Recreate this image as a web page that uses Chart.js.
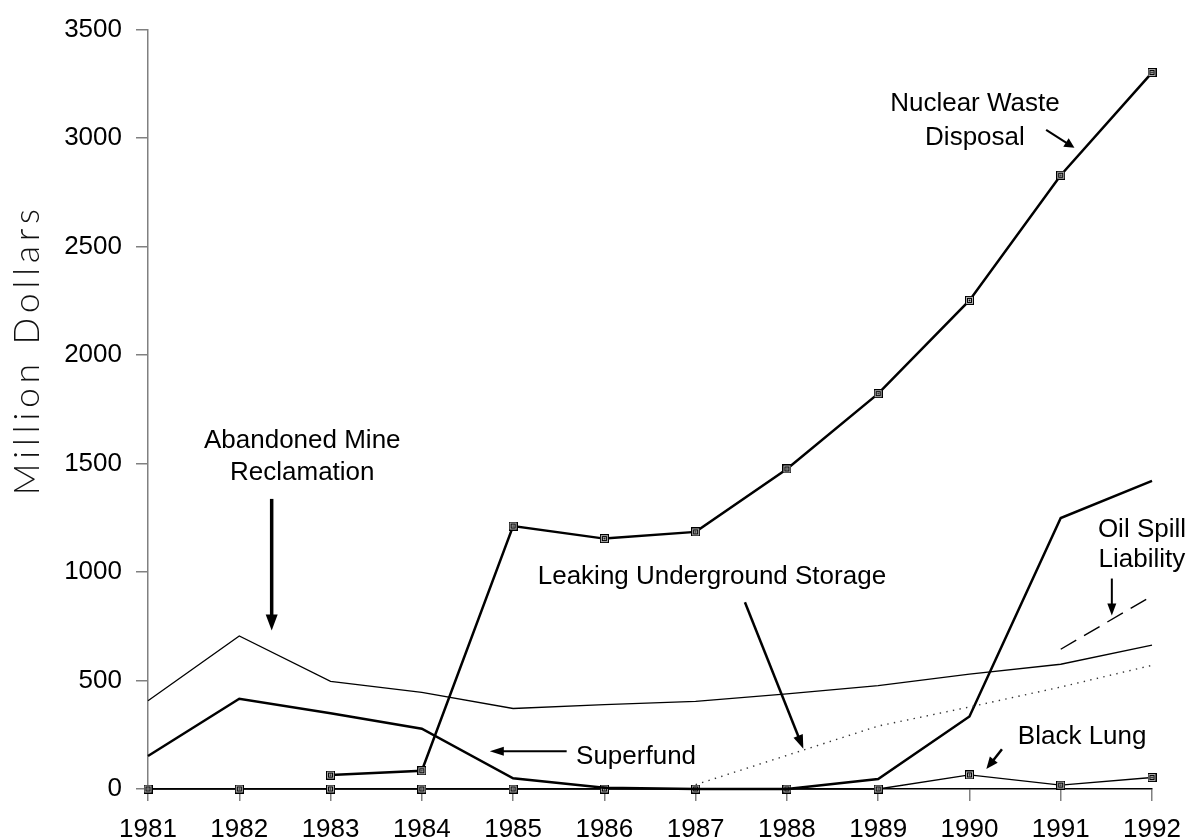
<!DOCTYPE html>
<html>
<head>
<meta charset="utf-8">
<script src="https://cdn.jsdelivr.net/npm/chart.js@4/dist/chart.umd.min.js"></script>
<style>
  html, body { margin: 0; padding: 0; background: #ffffff; }
  #wrap { width: 1196px; height: 840px; position: relative; }
</style>
</head>
<body>
<div id="wrap"><canvas id="c" width="1196" height="840"></canvas></div>
<script>
// ---------------- DATA ----------------
const years = ['1981','1982','1983','1984','1985','1986','1987','1988','1989','1990','1991','1992'];
const yTickValues = [0, 500, 1000, 1500, 2000, 2500, 3000, 3500];
const yTickLabels = ['0', '500', '1000', '1500', '2000', '2500', '3000', '3500'];
const nuclearWaste   = [null, null, 64, 84, 1212, 1154, 1185, 1475, 1822, 2252, 2829, 3302];
const superfund      = [152, 416, 349, 278, 49, 6, 0, 0, 46, 334, 1249, 1420];
const abandonedMine  = [407, 705, 496, 445, 371, 389, 404, 438, 476, 529, 575, 663];
const leakingStorage = [null, null, null, null, null, null, 20, 155, 290, 378, 470, 570];
const oilSpill       = [null, null, null, null, null, null, null, null, null, null, 644, 890];
const blackLung      = [0, 0, 0, 0, 0, 0, 0, 0, 0, 65, 18, 53];
const yAxisTitle = 'Million Dollars';

// ---------------- STYLE / LAYOUT ----------------
const FONT = '"Liberation Sans", Arial, Helvetica, sans-serif';
Chart.defaults.font.family = FONT;
Chart.defaults.color = '#000';

// square marker with dot
function makeMarker() {
  const c = document.createElement('canvas');
  c.width = 9; c.height = 9;
  const g = c.getContext('2d');
  g.fillStyle = '#b0b0b0';
  g.fillRect(0, 0, 9, 9);
  g.strokeStyle = '#000';
  g.lineWidth = 1;
  g.strokeRect(0.5, 0.5, 8, 8);
  g.fillStyle = '#fff';
  g.fillRect(2, 2, 5, 5);
  g.fillStyle = '#000';
  g.fillRect(3.5, 3.5, 2, 2);
  g.strokeStyle = '#000';
  g.strokeRect(2.5, 2.5, 4, 4);
  return c;
}
const marker = makeMarker();

// annotations in data units (x = category index, y = value)
const annotations = {
  texts: [
    { lines: ['Nuclear Waste', 'Disposal'], x: 9.06, y: 3157, dy: 34, align: 'center' },
    { lines: ['Abandoned Mine', 'Reclamation'], x: 1.69, y: 1606, dy: 32, align: 'center' },
    { lines: ['Superfund'], x: 4.69, y: 150, dy: 0, align: 'left' },
    { lines: ['Leaking Underground Storage'], x: 4.27, y: 979, dy: 0, align: 'left' },
    { lines: ['Oil Spill', 'Liability'], x: 10.89, y: 1195, dy: 30, align: 'center' },
    { lines: ['Black Lung'], x: 9.53, y: 239, dy: 0, align: 'left' }
  ],
  arrows: [
    { from: [9.84, 3038], to: [10.15, 2955], w: 2, head: 10, hw: 5 },
    { from: [1.355, 1337], to: [1.355, 730], w: 3.5, head: 16, hw: 6 },
    { from: [4.587, 174], to: [3.745, 174], w: 2, head: 14, hw: 4.5 },
    { from: [6.54, 861], to: [7.18, 185], w: 2.5, head: 14, hw: 5 },
    { from: [10.56, 970], to: [10.56, 800], w: 2, head: 12, hw: 4.5 },
    { from: [9.356, 183], to: [9.185, 92], w: 2.5, head: 12, hw: 5 }
  ]
};

const annotationPlugin = {
  id: 'annot',
  afterDatasetsDraw(chart) {
    const ctx = chart.ctx;
    const xs = chart.scales.x, ys = chart.scales.y;
    ctx.save();
    ctx.fillStyle = '#000';
    ctx.font = '26px ' + FONT;
    ctx.textBaseline = 'middle';
    annotations.texts.forEach(t => {
      ctx.textAlign = t.align;
      const px = xs.getPixelForValue(t.x);
      const py = ys.getPixelForValue(t.y);
      t.lines.forEach((ln, i) => ctx.fillText(ln, px, py + i * t.dy));
    });
    annotations.arrows.forEach(a => {
      const x1 = xs.getPixelForValue(a.from[0]), y1 = ys.getPixelForValue(a.from[1]);
      const x2 = xs.getPixelForValue(a.to[0]), y2 = ys.getPixelForValue(a.to[1]);
      const ang = Math.atan2(y2 - y1, x2 - x1);
      const bx = x2 - a.head * Math.cos(ang), by = y2 - a.head * Math.sin(ang);
      ctx.strokeStyle = '#000';
      ctx.lineWidth = a.w;
      ctx.beginPath();
      ctx.moveTo(x1, y1);
      ctx.lineTo(bx + 2 * Math.cos(ang), by + 2 * Math.sin(ang));
      ctx.stroke();
      ctx.fillStyle = '#000';
      ctx.beginPath();
      ctx.moveTo(x2, y2);
      ctx.lineTo(bx + a.hw * Math.sin(ang), by - a.hw * Math.cos(ang));
      ctx.lineTo(bx - a.hw * Math.sin(ang), by + a.hw * Math.cos(ang));
      ctx.closePath();
      ctx.fill();
    });
    ctx.restore();
  },
  afterDraw(chart) {
    const ctx = chart.ctx;
    const ys = chart.scales.y;
    ctx.save();
    ctx.translate(28, ys.getPixelForValue(2025));
    ctx.rotate(-Math.PI / 2);
    ctx.fillStyle = '#111';
    ctx.font = '300 35px Lato, "Open Sans", sans-serif';
    try { ctx.letterSpacing = '5px'; } catch (e) {}
    ctx.textAlign = 'center';
    ctx.textBaseline = 'middle';
    ctx.fillText(yAxisTitle, 0, 0);
    ctx.restore();
  }
};

const thick = 2.5, thin = 1.3;

new Chart(document.getElementById('c'), {
  type: 'line',
  data: {
    labels: years,
    datasets: [
      { label: 'Abandoned Mine Reclamation', data: abandonedMine, borderColor: '#000', borderWidth: thin, pointRadius: 0, tension: 0 },
      { label: 'Leaking Underground Storage', data: leakingStorage, borderColor: '#333', borderWidth: 1.4, borderDash: [1.4, 5.3], pointRadius: 0, tension: 0 },
      { label: 'Oil Spill Liability', data: oilSpill, borderColor: '#000', borderWidth: 1.4, borderDash: [18, 9], pointRadius: 0, tension: 0 },
      { label: 'Superfund', data: superfund, borderColor: '#000', borderWidth: thick, pointRadius: 0, tension: 0 },
      { label: 'Black Lung', data: blackLung, borderColor: '#000', borderWidth: thin, pointStyle: marker, pointRadius: 5, tension: 0 },
      { label: 'Nuclear Waste Disposal', data: nuclearWaste, borderColor: '#000', borderWidth: thick, pointStyle: marker, pointRadius: 5, tension: 0 }
    ]
  },
  options: {
    responsive: false,
    animation: false,
    devicePixelRatio: 1,
    clip: false,
    layout: { padding: { top: 24, right: 44, left: 0, bottom: 0 } },
    plugins: { legend: { display: false }, tooltip: { enabled: false } },
    elements: { line: { borderCapStyle: 'butt', borderJoinStyle: 'miter' } },
    scales: {
      x: {
        offset: false,
        grid: { drawOnChartArea: false, drawTicks: true, tickLength: 12, color: '#808080', lineWidth: 1.5 },
        border: { display: true, color: '#000', width: 1.5 },
        ticks: { font: { size: 26 }, color: '#000', padding: 13, maxRotation: 0, autoSkip: false },
        afterFit(scale) { scale.height = 51; }
      },
      y: {
        min: 0, max: 3500,
        afterBuildTicks(scale) { scale.ticks = yTickValues.map(v => ({ value: v })); },
        grid: { drawOnChartArea: false, drawTicks: true, tickLength: 12, color: '#808080', lineWidth: 1.5 },
        border: { display: true, color: '#808080', width: 1.5 },
        ticks: {
          font: { size: 26 }, color: '#000', padding: 14,
          callback: (v) => yTickLabels[yTickValues.indexOf(v)] ?? String(v)
        },
        afterFit(scale) { scale.width = 148; }
      }
    }
  },
  plugins: [annotationPlugin]
});
</script>
</body>
</html>
